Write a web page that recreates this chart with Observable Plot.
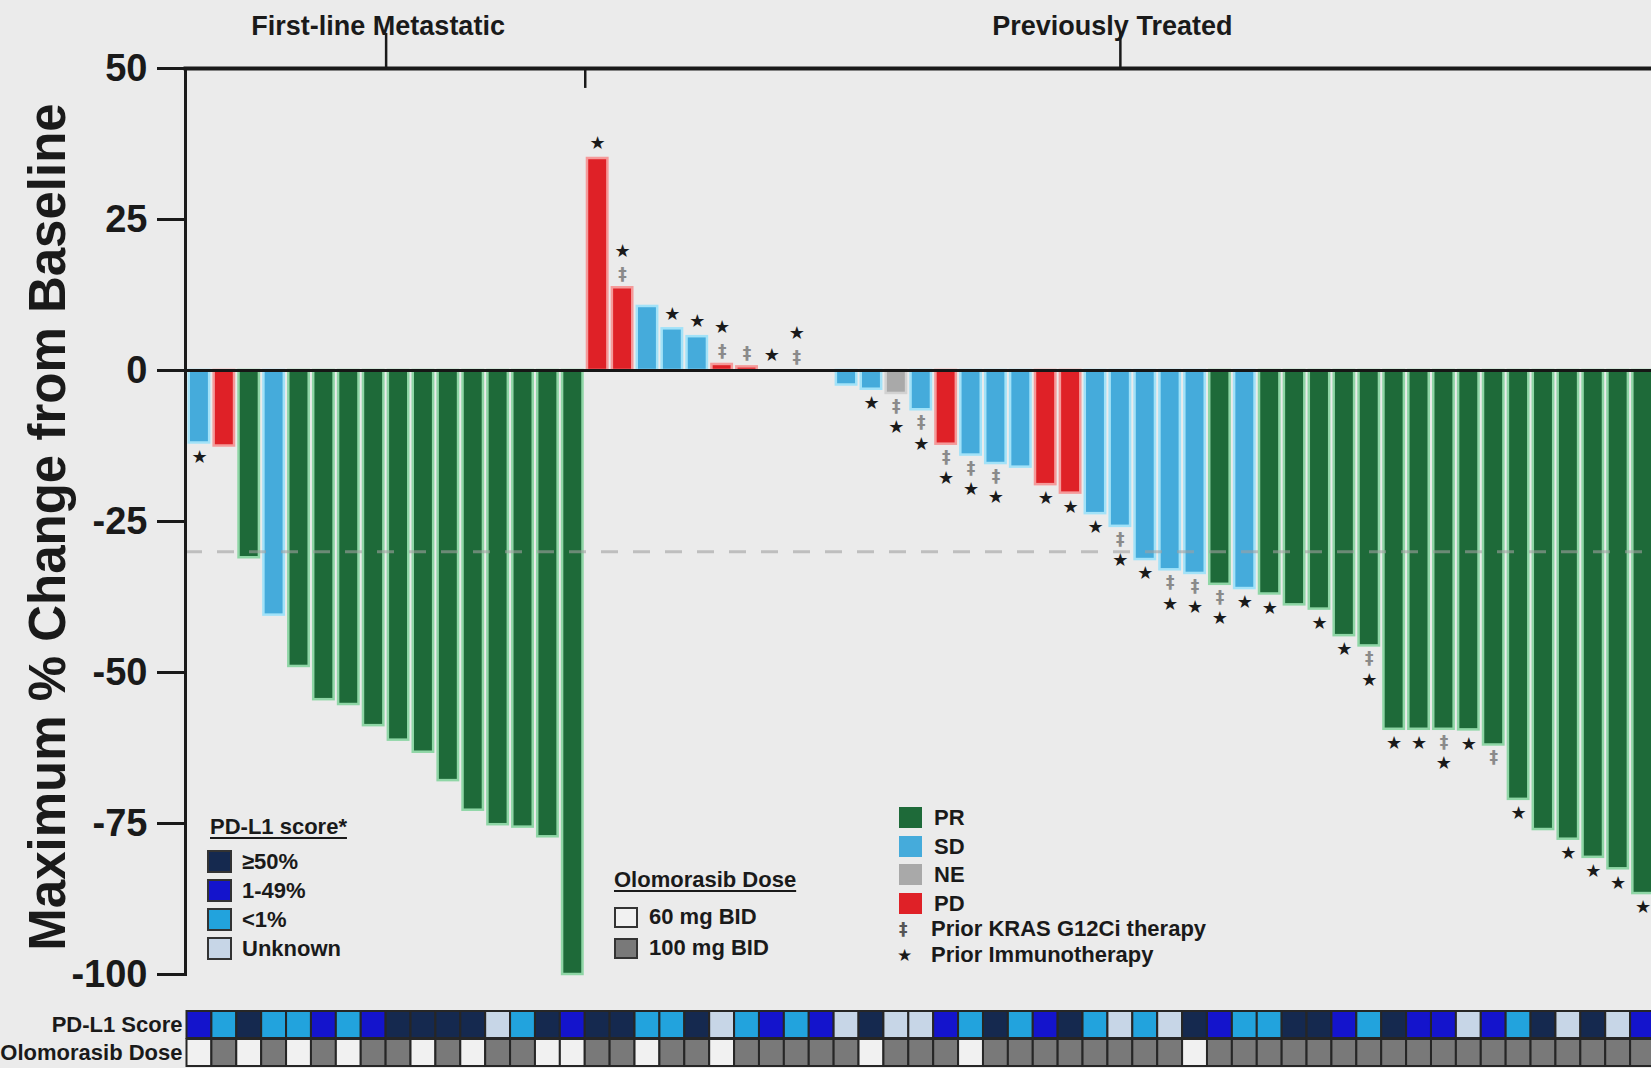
<!DOCTYPE html>
<html>
<head>
<meta charset="utf-8">
<script src="https://cdn.jsdelivr.net/npm/d3@7"></script>
<script src="https://cdn.jsdelivr.net/npm/@observablehq/plot@0.6"></script>
<style>
  body { margin: 0; background: #ebebeb; font-family: "Liberation Sans", Arial, sans-serif; font-weight: bold; color: #1a1a1a; }
  #wrap { position: relative; width: 1651px; height: 1068px; overflow: hidden; background: #ebebeb; }
  #main { position: absolute; left: 0; top: 0; }
  #strip { position: absolute; left: 0; top: 1005px; }
  .ylab { position: absolute; left: 47px; top: 527px; transform: translate(-50%, -50%) rotate(-90deg); font-size: 51px; white-space: nowrap; line-height: 1; }
  .leg { position: absolute; font-size: 22px; line-height: 26px; white-space: nowrap; }
  .ttl { text-decoration: underline; text-underline-offset: 3px; }
  .sw { position: absolute; box-sizing: border-box; }
</style>
</head>
<body>
<div id="wrap">
  <div id="main"></div>
  <div id="strip"></div>
  <div class="ylab">Maximum % Change from Baseline</div>
</div>
<script>
// ---------------- data ----------------
const responses = [
  "SD","PD","PR","SD","PR","PR","PR","PR","PR","PR","PR","PR","PR","PR","PR","PR",
  "PD","PD","SD","SD","SD","PD","PD","SD","SD","SD",
  "SD","SD","NE","SD","PD","SD","SD","SD","PD","PD","SD","SD","SD","SD","SD","PR","SD",
  "PR","PR","PR","PR","PR","PR","PR","PR","PR","PR","PR","PR","PR","PR","PR","PR"
];
const changes = [
  -12, -12.5, -31, -40.5, -49, -54.5, -55.3, -58.8, -61.2, -63.2, -67.9, -72.8, -75.2, -75.6, -77.2, -100,
  35.1, 13.7, 10.6, 6.9, 5.6, 1.0, 0.6, 0, 0, 0,
  -2.4, -3.1, -3.8, -6.5, -12.2, -14, -15.4, -16, -18.9, -20.3, -23.7, -25.8, -31.3, -33, -33.6, -35.4, -36.1,
  -37, -38.8, -39.5, -43.9, -45.6, -59.4, -59.4, -59.4, -59.5, -62, -71, -76, -77.6, -80.6, -82.5, -86.6
];
const pdl1Scores = [
  "1-49%","<1%","≥50%","<1%","<1%","1-49%","<1%","1-49%","≥50%","≥50%","≥50%","≥50%","Unknown","<1%","≥50%","1-49%",
  "≥50%","≥50%","<1%","<1%","≥50%","Unknown","<1%","1-49%","<1%","1-49%",
  "Unknown","≥50%","Unknown","Unknown","1-49%","<1%","≥50%","<1%","1-49%","≥50%","<1%","Unknown","<1%","Unknown","≥50%","1-49%","<1%",
  "<1%","≥50%","≥50%","1-49%","<1%","≥50%","1-49%","1-49%","Unknown","1-49%","<1%","≥50%","Unknown","≥50%","Unknown","1-49%"
];
const doses = [
  "60 mg BID","100 mg BID","60 mg BID","100 mg BID","60 mg BID","100 mg BID","60 mg BID","100 mg BID","100 mg BID","60 mg BID","100 mg BID","60 mg BID","100 mg BID","100 mg BID","60 mg BID","60 mg BID",
  "100 mg BID","100 mg BID","60 mg BID","100 mg BID","100 mg BID","60 mg BID","100 mg BID","100 mg BID","100 mg BID","100 mg BID",
  "100 mg BID","60 mg BID","100 mg BID","100 mg BID","100 mg BID","60 mg BID","100 mg BID","100 mg BID","100 mg BID","100 mg BID","100 mg BID","100 mg BID","100 mg BID","100 mg BID","60 mg BID","100 mg BID","100 mg BID",
  "100 mg BID","100 mg BID","100 mg BID","100 mg BID","100 mg BID","100 mg BID","100 mg BID","100 mg BID","100 mg BID","100 mg BID","100 mg BID","100 mg BID","100 mg BID","100 mg BID","100 mg BID","100 mg BID"
];
const priorKras = [18, 22, 23, 25, 29, 30, 31, 32, 33, 38, 40, 41, 42, 48, 51, 53];
const priorIO = [1, 17, 18, 20, 21, 22, 24, 25, 28, 29, 30, 31, 32, 33, 35, 36, 37, 38, 39, 40, 41, 42, 43, 44, 46, 47, 48, 49, 50, 51, 52, 54, 56, 57, 58, 59];
const sectionNames = ["First-line Metastatic", "Previously Treated"];
const sectionFirst = [1, 17];
const sectionLast = [16, 59];
const yTicks = [50, 25, 0, -25, -50, -75, -100];
const responseCats = ["PR", "SD", "NE", "PD"];
const pdl1Cats = ["≥50%", "1-49%", "<1%", "Unknown"];
const doseCats = ["60 mg BID", "100 mg BID"];
const threshold = -30;

// ---------------- styles ----------------
const fillOf = {PR: "#1e6a39", SD: "#45abdb", NE: "#a9a9a9", PD: "#df2127"};
const edgeOf = {PR: "#8fd6a6", SD: "#a2e2f8", NE: "#d2d2d2", PD: "#f59a9a"};
const pdl1Color = {"≥50%": "#15294f", "1-49%": "#1414cc", "<1%": "#22a3dd", "Unknown": "#c7d6e7"};
const doseColor = {"60 mg BID": "#f1f1f1", "100 mg BID": "#797979"};

const rows = responses.map((r, k) => ({
  i: k + 1, r, v: changes[k], pdl1: pdl1Scores[k], dose: doses[k],
  kras: priorKras.includes(k + 1), io: priorIO.includes(k + 1)
}));
const sections = sectionNames.map((name, k) => ({name, first: sectionFirst[k], last: sectionLast[k], center: (sectionFirst[k] + sectionLast[k]) / 2}));
const n = rows.length;
const xScale = {domain: [0.5, n + 0.5], range: [186.5, 1655]};
const font = "'Liberation Sans', Arial, sans-serif";

const main = Plot.plot({
  width: 1651,
  height: 1005,
  marginLeft: 185,
  marginRight: 0,
  marginTop: 68,
  marginBottom: 31,
  x: {...xScale, axis: null},
  y: {domain: [-100, 50], axis: null},
  color: {type: "identity"},
  style: {background: "transparent", fontFamily: font, color: "#1a1a1a", overflow: "visible"},
  marks: [
    Plot.rect(rows.filter(d => d.v !== 0), {
      x1: d => d.i - 0.41, x2: d => d.i + 0.41, y1: () => 0, y2: "v",
      fill: d => fillOf[d.r], stroke: d => edgeOf[d.r], strokeWidth: 2.5
    }),
    Plot.ruleY([threshold], {stroke: "#a0a0a0", strokeOpacity: 0.6, strokeWidth: 3, strokeDasharray: "17,15"}),
    Plot.ruleY([0], {stroke: "#161616", strokeWidth: 3.2}),
    Plot.frame({anchor: "left", stroke: "#1a1a1a", strokeWidth: 3}),
    Plot.frame({anchor: "top", stroke: "#1a1a1a", strokeWidth: 4}),
    Plot.axisY({ticks: yTicks, tickSize: 28, tickPadding: 10, strokeWidth: 3, fontSize: 38, fontWeight: "bold", tickFormat: d => String(d), label: null}),
    // bracket ticks
    Plot.ruleX(sections, {x: "center", y1: () => 50, y2: () => 55.8, stroke: "#1a1a1a", strokeWidth: 2.5}),
    Plot.ruleX(sections.slice(1), {x: d => d.first - 0.5, y1: () => 50, y2: () => 46.7, stroke: "#1a1a1a", strokeWidth: 2.5}),
    Plot.text(sections, {x: "center", y: () => 57, text: "name", dx: -8, fontSize: 27, fontWeight: "bold", fill: "#1a1a1a"}),
    // markers: prior KRAS G12Ci (‡) and prior immunotherapy (★)
    Plot.text(rows.filter(d => d.kras && d.v >= 0), {x: "i", y: "v", text: () => "‡", dy: -13, fontSize: 17, fontWeight: "bold", fill: "#8a8a8a", fontFamily: "DejaVu Sans"}),
    Plot.text(rows.filter(d => d.kras && d.v < 0), {x: "i", y: "v", text: () => "‡", dy: 13, fontSize: 17, fontWeight: "bold", fill: "#8a8a8a", fontFamily: "DejaVu Sans"}),
    Plot.text(rows.filter(d => d.io && !d.kras && d.v >= 0), {x: "i", y: "v", text: () => "★", dy: -15, fontSize: 18, fill: "#1a1a1a", fontFamily: "DejaVu Sans"}),
    Plot.text(rows.filter(d => d.io && d.kras && d.v >= 0), {x: "i", y: "v", text: () => "★", dy: -37, fontSize: 18, fill: "#1a1a1a", fontFamily: "DejaVu Sans"}),
    Plot.text(rows.filter(d => d.io && !d.kras && d.v < 0), {x: "i", y: "v", text: () => "★", dy: 14, fontSize: 18, fill: "#1a1a1a", fontFamily: "DejaVu Sans"}),
    Plot.text(rows.filter(d => d.io && d.kras && d.v < 0), {x: "i", y: "v", text: () => "★", dy: 34, fontSize: 18, fill: "#1a1a1a", fontFamily: "DejaVu Sans"})
  ]
});
document.getElementById("main").appendChild(main);

// strip rows: PD-L1 score and dose
const stripRows = ["PD-L1 Score", "Olomorasib Dose"];
const strip = Plot.plot({
  width: 1651,
  height: 63,
  marginLeft: 185,
  marginRight: 0,
  marginTop: 4,
  marginBottom: 0,
  x: {...xScale, axis: null},
  y: {domain: stripRows, padding: 0.04, axis: null},
  color: {type: "identity"},
  style: {background: "transparent", fontFamily: font, color: "#1a1a1a", overflow: "visible"},
  marks: [
    Plot.barX(rows, {y: () => stripRows[0], x1: d => d.i - 0.5, x2: d => d.i + 0.5, fill: d => pdl1Color[d.pdl1], stroke: "#262626", strokeWidth: 2}),
    Plot.barX(rows, {y: () => stripRows[1], x1: d => d.i - 0.5, x2: d => d.i + 0.5, fill: d => doseColor[d.dose], stroke: "#262626", strokeWidth: 2}),
    Plot.axisY({tickSize: 0, tickPadding: 3, fontSize: 22, fontWeight: "bold"})
  ]
});
document.getElementById("strip").appendChild(strip);

// ---------------- legends (HTML) ----------------
const wrap = document.getElementById("wrap");
function addText(txt, left, cy, cls = "") {
  const d = document.createElement("div");
  d.className = "leg " + cls;
  d.textContent = txt;
  d.style.left = left + "px";
  d.style.top = (cy - 13) + "px";
  wrap.appendChild(d);
  return d;
}
function addSwatch(left, top, w, h, color, border) {
  const d = document.createElement("div");
  d.className = "sw";
  Object.assign(d.style, {left: left + "px", top: top + "px", width: w + "px", height: h + "px", background: color, border: border || "none"});
  wrap.appendChild(d);
}
// PD-L1 legend
addText("PD-L1 score*", 210, 827, "ttl");
pdl1Cats.forEach((c, k) => {
  addSwatch(207, 850 + k * 29, 25, 23, pdl1Color[c], "2px solid #333");
  addText(c, 242, 862 + k * 29);
});
// Dose legend
addText("Olomorasib Dose", 614, 880, "ttl");
doseCats.forEach((c, k) => {
  addSwatch(614, 907 + k * 31, 24, 21, doseColor[c], "2px solid #333");
  addText(c, 649, 917 + k * 31);
});
// Response legend
responseCats.forEach((c, k) => {
  addSwatch(899, 807 + k * 28.5, 23, 21, fillOf[c]);
  addText(c, 934, 818 + k * 28.5);
});
const s1 = addText("‡", 899, 929); s1.style.fontFamily = "DejaVu Sans"; s1.style.fontSize = "17px"; s1.style.color = "#555";
addText("Prior KRAS G12Ci therapy", 931, 929);
const s2 = addText("★", 897, 955); s2.style.fontFamily = "DejaVu Sans"; s2.style.fontSize = "17px";
addText("Prior Immunotherapy", 931, 955);
</script>
</body>
</html>
